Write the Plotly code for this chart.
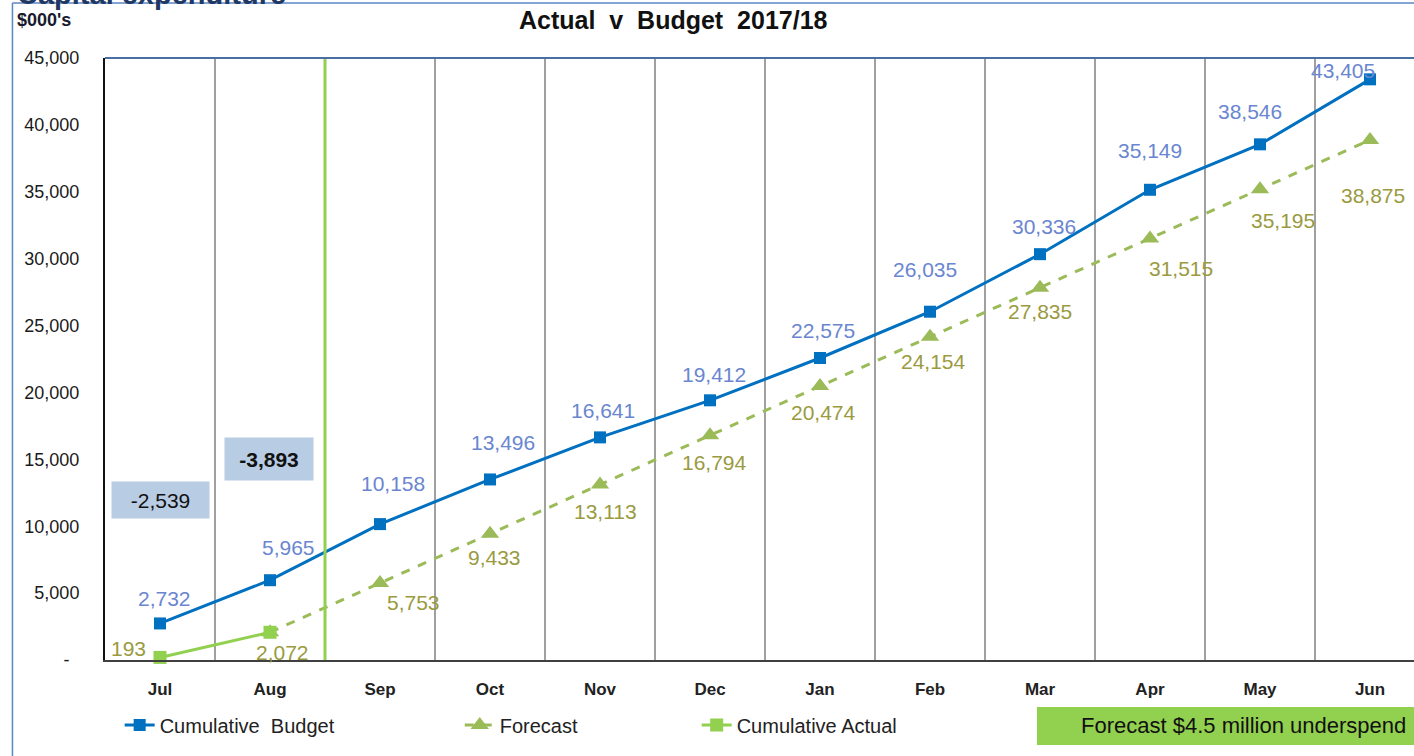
import plotly.graph_objects as go

months = ["Jul", "Aug", "Sep", "Oct", "Nov", "Dec", "Jan", "Feb", "Mar", "Apr", "May", "Jun"]
budget = [2732, 5965, 10158, 13496, 16641, 19412, 22575, 26035, 30336, 35149, 38546, 43405]
forecast_months = ["Aug", "Sep", "Oct", "Nov", "Dec", "Jan", "Feb", "Mar", "Apr", "May", "Jun"]
forecast = [2072, 5753, 9433, 13113, 16794, 20474, 24154, 27835, 31515, 35195, 38875]
actual_months = ["Jul", "Aug"]
actual = [193, 2072]
variance = [-2539, -3893]
y_ticks = [0, 5000, 10000, 15000, 20000, 25000, 30000, 35000, 40000, 45000]

# label offsets in pixels (style only)
budget_off = [(4, -25), (18, -33), (13, -41), (13, -37), (3, -27), (4, -26), (3, -28),
              (-5, -42), (4, -28), (0, -39), (-10, -33), (-27, -9)]
forecast_off = [None, (33, 19), (4, 24), (5, 27), (4, 27), (3, 26), (3, 25), (0, 24),
                (31, 30), (23, 31), (3, 56)]
actual_off = [(-32, -9), (12, 20)]
variance_pos = [(0, 11960), (0.99, 15025)]

xi = {m: i for i, m in enumerate(months)}
BLUE = "#0070C0"
GREEN = "#92D050"
OLIVE_LINE = "#9BBB59"
BLUE_TXT = "#6A86D0"
OLIVE_TXT = "#9A9A40"
FONT = "Liberation Sans, Arial, sans-serif"

fig = go.Figure()
fig.add_trace(go.Scatter(
    x=[xi[m] for m in months], y=budget, mode="lines+markers", name="Cumulative  Budget",
    line=dict(color=BLUE, width=3), marker=dict(symbol="square", size=12, color=BLUE),
    legend="legend", showlegend=True, cliponaxis=False))
fig.add_trace(go.Scatter(
    x=[xi[m] for m in forecast_months], y=forecast, mode="lines+markers", name="Forecast",
    line=dict(color=OLIVE_LINE, width=3, dash="dash"),
    marker=dict(symbol="triangle-up", size=16, color=OLIVE_LINE),
    legend="legend2", showlegend=True, cliponaxis=False))
fig.add_trace(go.Scatter(
    x=[xi[m] for m in actual_months], y=actual, mode="lines+markers", name="Cumulative Actual",
    line=dict(color=GREEN, width=3), marker=dict(symbol="square", size=13, color=GREEN),
    legend="legend3", showlegend=True, cliponaxis=False))

ann = []
for m, v, (dx, dy) in zip(months, budget, budget_off):
    ann.append(dict(x=xi[m], y=v, xref="x", yref="y", text=f"{v:,}", showarrow=False,
                    xshift=dx, yshift=-dy, font=dict(size=21, color=BLUE_TXT, family=FONT)))
for m, v, off in zip(forecast_months, forecast, forecast_off):
    if off is None:
        continue
    dx, dy = off
    ann.append(dict(x=xi[m], y=v, xref="x", yref="y", text=f"{v:,}", showarrow=False,
                    xshift=dx, yshift=-dy, font=dict(size=21, color=OLIVE_TXT, family=FONT)))
for m, v, (dx, dy) in zip(actual_months, actual, actual_off):
    ann.append(dict(x=xi[m], y=v, xref="x", yref="y", text=f"{v:,}", showarrow=False,
                    xshift=dx, yshift=-dy, font=dict(size=21, color=OLIVE_TXT, family=FONT)))
for i, (v, (px, py)) in enumerate(zip(variance, variance_pos)):
    txt = f"{v:,}" if i == 0 else f"<b>{v:,}</b>"
    w = 89 if i == 0 else 80
    h = 28 if i == 0 else 34
    ann.append(dict(x=px, y=py, xref="x", yref="y", text=txt, showarrow=False,
                    bgcolor="#B8CCE4", width=w, height=h, borderpad=4,
                    font=dict(size=21, color="#111111", family=FONT)))

ann += [
    dict(x=0.434, y=1.063, xref="paper", yref="paper", text="<b>Actual  v  Budget  2017/18</b>",
         xanchor="center", yanchor="middle",
         showarrow=False, font=dict(size=25, color="#111111", family=FONT)),
    dict(x=-0.0688, y=1.063, xref="paper", yref="paper", text="<b>$000's</b>", xanchor="left",
         yanchor="middle", showarrow=False, font=dict(size=18, color="#1a1a2e", family=FONT)),
    dict(x=-0.0688, y=1.107, xref="paper", yref="paper", text="<b>Capital expenditure</b>", xanchor="left",
         yanchor="middle", showarrow=False, font=dict(size=29, color="#1F3864", family=FONT)),
    dict(x=0.8694, y=-0.1096, xref="paper", yref="paper", text="Forecast $4.5 million underspend",
         xanchor="center", yanchor="middle",
         showarrow=False, font=dict(size=22, color="#111111", family=FONT)),
]

shapes = [
    dict(type="line", xref="x", yref="y domain", x0=1.5, x1=1.5, y0=0, y1=1,
         line=dict(color=GREEN, width=3)),
    dict(type="line", xref="paper", yref="paper", x0=0, x1=1.05, y0=1, y1=1,
         line=dict(color="#4A6FA5", width=2)),
    dict(type="line", xref="paper", yref="paper", x0=-0.0707, x1=-0.0707, y0=-0.3, y1=1.0914,
         line=dict(color="#5B86C5", width=1.5)),
    dict(type="line", xref="paper", yref="paper", x0=-0.0707, x1=1.05, y0=1.0914, y1=1.0914,
         line=dict(color="#5B86C5", width=1.5)),
    dict(type="rect", xref="paper", yref="paper", x0=0.712, x1=1.02, y0=-0.1412, y1=-0.0781,
         fillcolor=GREEN, line=dict(width=0), layer="below"),
]

legend_common = dict(orientation="h", yanchor="middle", y=-0.108, xanchor="left",
                     bgcolor="rgba(0,0,0,0)", font=dict(size=20, color="#222222", family=FONT),
                     itemclick=False, itemdoubleclick=False, visible=True)

fig.update_layout(
    width=1414, height=756,
    margin=dict(l=105, r=0, t=58, b=96),
    paper_bgcolor="white", plot_bgcolor="white",
    font=dict(family=FONT),
    showlegend=True,
    annotations=ann, shapes=shapes,
    legend=dict(x=0.0112, **legend_common),
    legend2=dict(x=0.271, **legend_common),
    legend3=dict(x=0.452, **legend_common),
    xaxis=dict(range=[-0.5, 11.4], tickmode="array", tickvals=list(range(12)),
               ticktext=[f"<b>{m}</b>" for m in months],
               showgrid=False, zeroline=False, showline=True, linecolor="#404040", linewidth=1.5,
               ticks="", ticklabelstandoff=13, tickfont=dict(size=17, color="#222222", family=FONT),
               minor=dict(tickmode="array", tickvals=[i + 0.5 for i in range(11)], showgrid=True,
                          gridcolor="#A0A0A0", gridwidth=1.5, ticks="")),
    yaxis=dict(range=[0, 45000], tickmode="array", tickvals=y_ticks,
               ticktext=["-\u00a0\u00a0"] + [f"{v:,}" for v in y_ticks[1:]],
               showgrid=False, zeroline=False, showline=True, linecolor="#111111", linewidth=2,
               ticks="", ticklabelstandoff=20, tickfont=dict(size=18, color="#1a1a1a", family=FONT)),
)

fig.write_html("out.html", post_script="document.body.style.margin='0';",
               config={"displayModeBar": False})
